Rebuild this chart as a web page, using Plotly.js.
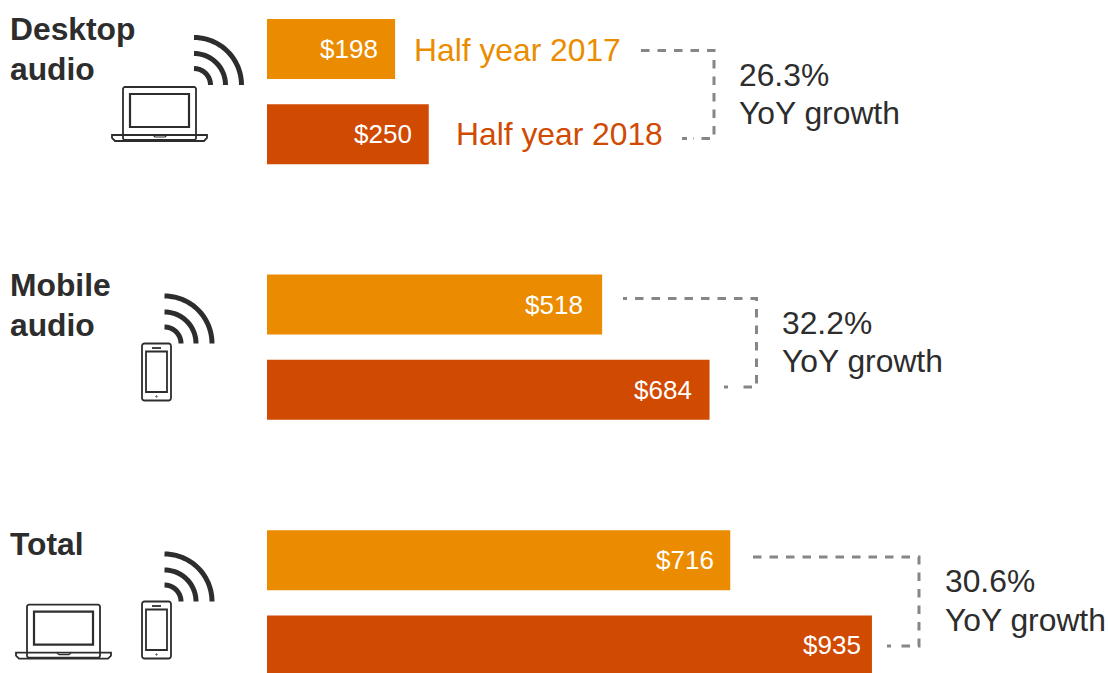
<!DOCTYPE html>
<html><head><meta charset="utf-8">
<script src="https://cdn.plot.ly/plotly-3.0.1.min.js"></script>
<style>html,body{margin:0;padding:0;background:#fff}#c{width:1108px;height:673px}</style>
</head><body><div id="c"></div>
<script>
// ---- data ----
var groups = ['Desktop<br>audio', 'Mobile<br>audio', 'Total'];
var series2017 = [198, 518, 716];
var series2018 = [250, 684, 935];
var growth = ['26.3%', '32.2%', '30.6%'];
var growthNote = 'YoY growth';
var name2017 = 'Half year 2017';
var name2018 = 'Half year 2018';
var rows2017 = [0, 3, 6];
var rows2018 = [1, 4, 7];

// ---- layout constants (pixels of the 1108x673 page) ----
var W = 1108, H = 673, ORANGE = '#EB8C00', RUST = '#D04A02', INK = '#2D2D2D', GREY = '#868686';
var FONT = '"Liberation Sans", Arial, sans-serif', FS = 31.8, VFS = 26;
var PX_PER_VALUE = 0.647, X0 = 267, ROW = 85.2, Y0 = 49, BAR = 60;
var inset2017 = [16, 18, 15], inset2018 = [16, 17, 10];
function px(x) { return x / W; }
function py(y) { return 1 - y / H; }

function path(pts, close) {
  return 'M' + pts.map(function (p) { return px(p[0]).toFixed(5) + ',' + py(p[1]).toFixed(5); }).join('L') + (close ? 'Z' : '');
}
function line(pts, color, width, dash, close) {
  return { type: 'path', xref: 'paper', yref: 'paper', path: path(pts, close), layer: 'above',
    line: { color: color, width: width, dash: dash || 'solid' } };
}
function rrect(x0, y0, x1, y1, r) {
  var pts = [], cs = [[x1 - r, y0 + r, -90], [x1 - r, y1 - r, 0], [x0 + r, y1 - r, 90], [x0 + r, y0 + r, 180]];
  cs.forEach(function (c) {
    for (var i = 0; i <= 4; i++) {
      var a = (c[2] + i * 22.5) * Math.PI / 180;
      pts.push([c[0] + r * Math.cos(a), c[1] + r * Math.sin(a)]);
    }
  });
  return pts;
}
function waves(cx, cy) {
  return [16.5, 31.5, 47.5].map(function (r) {
    var pts = [];
    for (var i = 0; i <= 24; i++) {
      var a = i / 24 * Math.PI / 2;
      pts.push([cx + r * Math.sin(a), cy - r * Math.cos(a)]);
    }
    return line(pts, INK, 5);
  });
}
function laptop(dx, dy) {
  var s = [];
  s.push(line(rrect(123 + dx, 87 + dy, 196 + dx, 140 + dy, 2), INK, 1.8, null, true));
  s.push(line([[130 + dx, 94 + dy], [189 + dx, 94 + dy], [189 + dx, 127 + dy], [130 + dx, 127 + dy]], INK, 2.2, null, true));
  s.push(line([[112 + dx, 135 + dy], [207 + dx, 135 + dy], [207 + dx, 138 + dy], [204 + dx, 141 + dy], [115 + dx, 141 + dy], [112 + dx, 138 + dy]], INK, 1.8, null, true));
  s.push(line([[153 + dx, 135 + dy], [155 + dx, 137 + dy], [165 + dx, 137 + dy], [167 + dx, 135 + dy]], INK, 1.2));
  return s;
}
function phone(dy) {
  var s = [];
  s.push(line(rrect(142, 343.5 + dy, 171, 400.5 + dy, 2.5), INK, 1.8, null, true));
  s.push(line([[146, 351.5 + dy], [167, 351.5 + dy], [167, 392 + dy], [146, 392 + dy]], INK, 1.8, null, true));
  s.push(line([[152, 348 + dy], [161, 348 + dy]], INK, 1.8));
  s.push(line(rrect(155.8, 395.8 + dy, 157.2, 397.2 + dy, 0.7), INK, 1, null, true));
  return s;
}

var shapes = [].concat(
  waves(194, 85), laptop(0, 0),
  waves(164.5, 343.5), phone(0),
  waves(164.5, 601.5), phone(258), laptop(-96, 517.7)
);
var connectors = [
  [[641, 50.5], [714, 50.5], [714, 138.5], [693, 138.5]],
  [[635, 298.5], [756.5, 298.5], [756.5, 387], [736, 387]],
  [[753, 557], [919, 557], [919, 646], [899, 646]]
];
var stubs = [
  [[682, 138.5], [687, 138.5]],
  [[623, 298.5], [627, 298.5]],
  [[724, 387], [728, 387]],
  [[887, 646], [891, 646]]
];
connectors.forEach(function (c) { shapes.push(line(c, GREY, 3, '8.5px,8px')); });
stubs.forEach(function (c) { shapes.push(line(c, GREY, 3)); });

function note(text, x, y, color, size) {
  return { xref: 'paper', yref: 'paper', x: px(x), y: py(y), xanchor: 'left', yanchor: 'middle',
    text: text, showarrow: false, borderpad: 0, align: 'left', font: { family: FONT, size: size || FS, color: color } };
}
var annotations = [];
var groupY = [29, 285, 544], GROUP_LINE = 40, growthX = [738, 781, 944], growthY1 = [75, 323, 581], growthY2 = [113, 361, 620];
groups.forEach(function (g, i) {
  g.split('<br>').forEach(function (part, k) {
    annotations.push(note('<b>' + part + '</b>', 8.5, groupY[i] + k * GROUP_LINE, INK));
  });
  annotations.push(note(growth[i], growthX[i], growthY1[i], INK));
  annotations.push(note(growthNote, growthX[i], growthY2[i], INK));
});
annotations.push(note(name2017, 413, 50.5, ORANGE));
annotations.push(note(name2018, 455, 134.5, RUST));

function valueLabels(vals, rows, insets) {
  vals.forEach(function (v, i) {
    annotations.push({ xref: 'x', yref: 'y', x: v, y: rows[i], xanchor: 'right', yanchor: 'middle', xshift: -insets[i],
      text: '$' + v, showarrow: false, borderpad: 0, font: { family: FONT, size: VFS, color: '#FFFFFF' } });
  });
}
valueLabels(series2017, rows2017, inset2017);
valueLabels(series2018, rows2018, inset2018);

var traces = [
  { type: 'bar', orientation: 'h', name: name2017, x: series2017, y: rows2017, width: BAR / ROW, marker: { color: ORANGE }, hoverinfo: 'x' },
  { type: 'bar', orientation: 'h', name: name2018, x: series2018, y: rows2018, width: BAR / ROW, marker: { color: RUST }, hoverinfo: 'x' }
];
var layout = {
  width: W, height: H, margin: { l: 0, r: 0, t: 0, b: 0, pad: 0 }, showlegend: false, barmode: 'overlay',
  paper_bgcolor: '#fff', plot_bgcolor: '#fff', font: { family: FONT },
  xaxis: { range: [-X0 / PX_PER_VALUE, (W - X0) / PX_PER_VALUE], visible: false, fixedrange: true },
  yaxis: { range: [(H - Y0) / ROW, -Y0 / ROW], visible: false, fixedrange: true },
  shapes: shapes, annotations: annotations
};
Plotly.newPlot('c', traces, layout, { displayModeBar: false, staticPlot: true });
</script></body></html>
